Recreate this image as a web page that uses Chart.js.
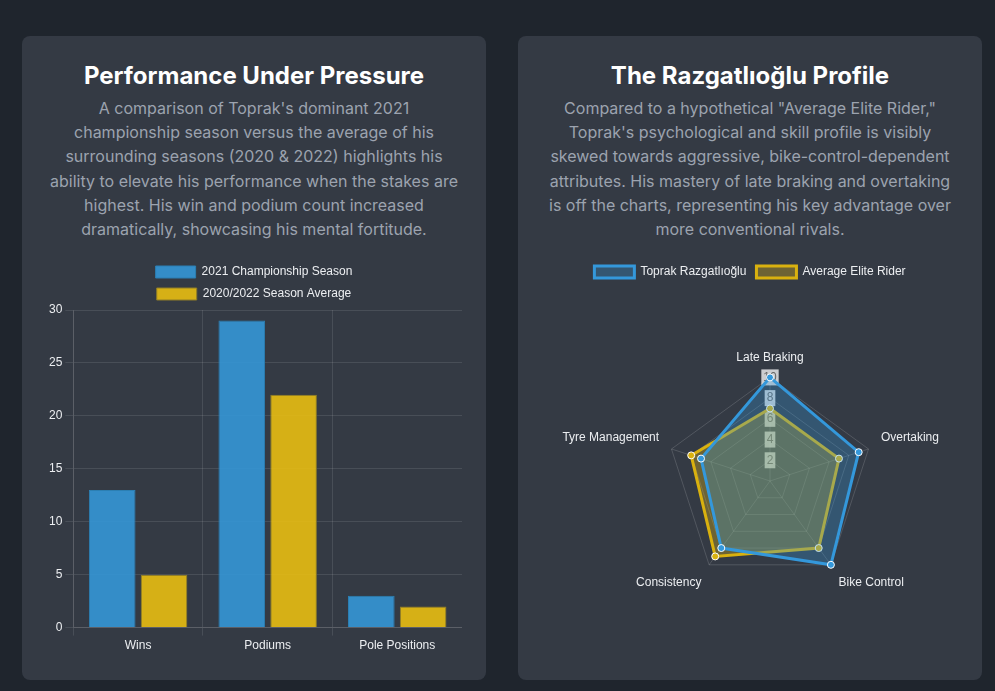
<!DOCTYPE html>
<html>
<head>
<meta charset="utf-8">
<script src="https://cdn.jsdelivr.net/npm/chart.js@4.4.1/dist/chart.umd.min.js"></script>
<style>
  html, body { margin: 0; padding: 0; }
  body {
    background: #1f252d;
    font-family: Inter, "Noto Sans", sans-serif;
    padding: 36px 13px 0 22px;
    width: 995px;
    height: 691px;
    box-sizing: border-box;
    overflow: hidden;
  }
  .grid {
    display: grid;
    grid-template-columns: 464px 464px;
    column-gap: 32px;
  }
  .card {
    background: #343a44;
    border-radius: 8px;
    padding: 24px;
    box-sizing: border-box;
    text-align: center;
  }
  .card h2 {
    margin: 0 0 4px 0;
    font-size: 24px;
    line-height: 32px;
    font-weight: 700;
    color: #ffffff;
  }
  .card p {
    margin: 0 0 15px 0;
    font-size: 16px;
    line-height: 24.2px;
    color: #9ca3af;
  }
  .chart-box {
    position: relative;
    height: 400px;
    width: 100%;
  }
</style>
</head>
<body>
<div class="grid">
  <div class="card">
    <h2>Performance Under Pressure</h2>
    <p>A comparison of Toprak's dominant 2021 championship season versus the average of his surrounding seasons (2020 &amp; 2022) highlights his ability to elevate his performance when the stakes are highest. His win and podium count increased dramatically, showcasing his mental fortitude.</p>
    <div class="chart-box"><canvas id="barChart"></canvas></div>
  </div>
  <div class="card">
    <h2>The Razgatlıoğlu Profile</h2>
    <p>Compared to a hypothetical "Average Elite Rider," Toprak's psychological and skill profile is visibly skewed towards aggressive, bike-control-dependent attributes. His mastery of late braking and overtaking is off the charts, representing his key advantage over more conventional rivals.</p>
    <div class="chart-box"><canvas id="radarChart"></canvas></div>
  </div>
</div>
<script>
// bar chart data
const barCategories = ['Wins', 'Podiums', 'Pole Positions'];
const season2021 = [13, 29, 3];
const seasonAverage = [5, 22, 2];

// radar chart data
const skillLabels = ['Late Braking', 'Overtaking', 'Bike Control', 'Consistency', 'Tyre Management'];
const toprakScores = [10, 9, 10, 8, 7];
const eliteScores = [7, 7, 8, 9, 8];

const textColor = '#eceef1';
const gridColor = 'rgba(255, 255, 255, 0.1)';

new Chart(document.getElementById('barChart'), {
    type: 'bar',
    data: {
        labels: barCategories,
        datasets: [{
            label: '2021 Championship Season',
            data: season2021,
            backgroundColor: 'rgba(52, 152, 219, 0.88)',
            borderColor: '#2b7fb3',
            borderWidth: 1
        }, {
            label: '2020/2022 Season Average',
            data: seasonAverage,
            backgroundColor: 'rgba(241, 196, 15, 0.86)',
            borderColor: '#8f7d27',
            borderWidth: 1
        }]
    },
    options: {
        responsive: true,
        maintainAspectRatio: false,
        animation: false,
        plugins: {
            legend: {
                position: 'top',
                labels: { color: textColor }
            }
        },
        scales: {
            x: {
                ticks: { color: textColor },
                grid: { color: gridColor },
                border: { color: gridColor }
            },
            y: {
                beginAtZero: true,
                ticks: { color: textColor },
                grid: { color: gridColor },
                border: { color: gridColor }
            }
        }
    }
});

new Chart(document.getElementById('radarChart'), {
    type: 'radar',
    data: {
        labels: skillLabels,
        datasets: [{
            label: 'Toprak Razgatlıoğlu',
            data: toprakScores,
            backgroundColor: 'rgba(52, 152, 219, 0.3)',
            borderColor: '#3498db',
            borderWidth: 3,
            pointRadius: 3.5,
            pointBorderWidth: 1,
            pointBackgroundColor: '#3498db',
            pointBorderColor: '#fff'
        }, {
            label: 'Average Elite Rider',
            data: eliteScores,
            backgroundColor: 'rgba(241, 196, 15, 0.3)',
            borderColor: '#d9b10f',
            borderWidth: 3,
            pointRadius: 3.5,
            pointBorderWidth: 1,
            pointBackgroundColor: '#d9b10f',
            pointBorderColor: '#fff'
        }]
    },
    options: {
        responsive: true,
        maintainAspectRatio: false,
        animation: false,
        plugins: {
            legend: {
                position: 'top',
                labels: { color: textColor }
            }
        },
        scales: {
            r: {
                min: 0,
                max: 10,
                ticks: { stepSize: 2, color: '#666' },
                grid: { color: 'rgba(255, 255, 255, 0.15)' },
                angleLines: { color: 'rgba(255, 255, 255, 0.15)' },
                pointLabels: { color: textColor, font: { size: 12 } }
            }
        }
    }
});
</script>
</body>
</html>
